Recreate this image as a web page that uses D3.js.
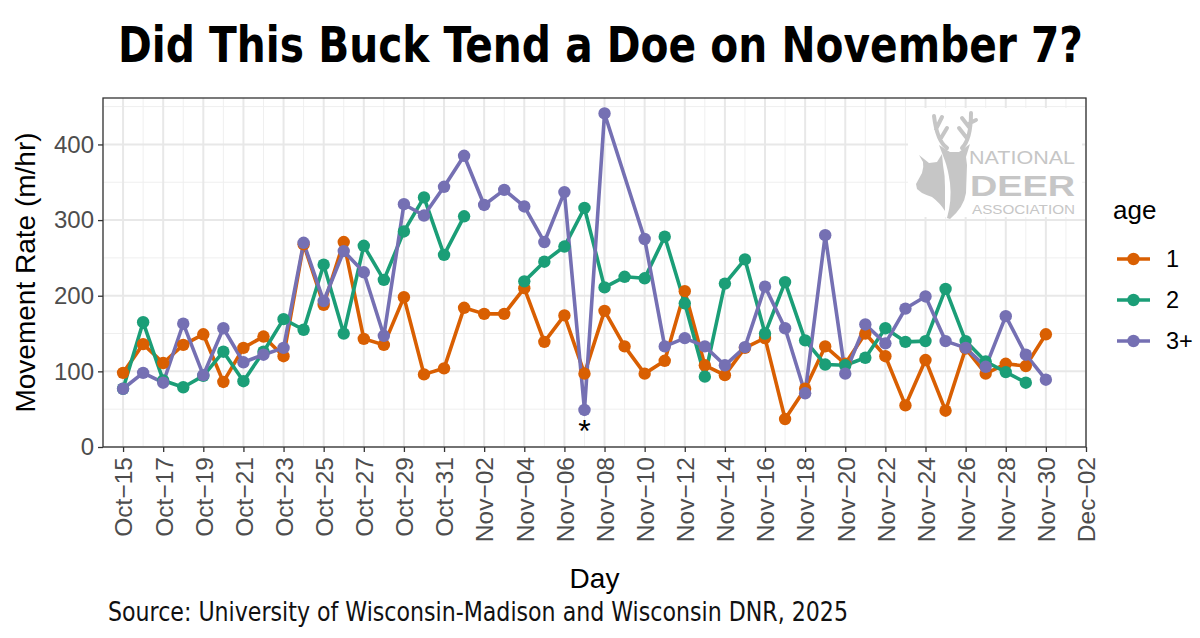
<!DOCTYPE html>
<html>
<head>
<meta charset="utf-8">
<script src="https://cdn.jsdelivr.net/npm/d3@7"></script>
<style>
  body { margin: 0; background: #fff; }
  svg { display: block; }
</style>
</head>
<body>
<div id="chart"></div>
<script>
const days = [
  "2024-10-15", "2024-10-16", "2024-10-17", "2024-10-18", "2024-10-19", "2024-10-20",
  "2024-10-21", "2024-10-22", "2024-10-23", "2024-10-24", "2024-10-25", "2024-10-26",
  "2024-10-27", "2024-10-28", "2024-10-29", "2024-10-30", "2024-10-31", "2024-11-01",
  "2024-11-02", "2024-11-03", "2024-11-04", "2024-11-05", "2024-11-06", "2024-11-07",
  "2024-11-08", "2024-11-09", "2024-11-10", "2024-11-11", "2024-11-12", "2024-11-13",
  "2024-11-14", "2024-11-15", "2024-11-16", "2024-11-17", "2024-11-18", "2024-11-19",
  "2024-11-20", "2024-11-21", "2024-11-22", "2024-11-23", "2024-11-24", "2024-11-25",
  "2024-11-26", "2024-11-27", "2024-11-28", "2024-11-29", "2024-11-30"
];
const age1 = [98, 136, 111, 135, 149, 86, 131, 146, 120, 268, 188, 271,
  143, 135, 198, 96, 104, 184, 176, 176, 210, 139, 174, 97,
  180, 133, 97, 114, 206, 108, 95, 131, 144, 37, 77, 133,
  110, 150, 120, 55, 115, 48, 130, 97, 110, 107, 149];
const age2 = [77, 165, 88, 79, 94, 126, 87, 126, 169, 155, 241, 150,
  266, 221, 285, 330, 254, 305, null, null, 219, 245, 265, 316,
  211, 225, 223, 278, 190, 93, 216, 248, 150, 218, 141, 109,
  108, 118, 157, 139, 140, 209, 140, 113, 99, 85, null];
const age3 = [77, 98, 85, 163, 95, 157, 112, 122, 131, 270, 193, 259,
  231, 147, 321, 306, 344, 385, 320, 340, 318, 271, 337, 49,
  441, null, 275, 133, 144, 133, 108, 132, 212, 157, 71, 280,
  97, 162, 137, 183, 199, 140, 131, 106, 173, 122, 89];

const ageLabels = ["1", "2", "3+"];
const ageColors = ["#D95F02", "#1B9E77", "#7570B3"];
// age 2 has NA rows (line breaks), age 3+ simply lacks the Nov 9 row (line joins)
const bridgeGaps = [false, false, true];

const xTicks = [
  "2024-10-15", "2024-10-17", "2024-10-19", "2024-10-21", "2024-10-23", "2024-10-25",
  "2024-10-27", "2024-10-29", "2024-10-31", "2024-11-02", "2024-11-04", "2024-11-06",
  "2024-11-08", "2024-11-10", "2024-11-12", "2024-11-14", "2024-11-16", "2024-11-18",
  "2024-11-20", "2024-11-22", "2024-11-24", "2024-11-26", "2024-11-28", "2024-11-30",
  "2024-12-02"
];
const yTicks = [0, 100, 200, 300, 400];
const yMinor = [50, 150, 250, 350, 450];
const markDay = "2024-11-07";

const parseDay = d3.utcParse("%Y-%m-%d");
const keyFormat = d3.utcFormat("%Y-%m-%d");
const tickFormat = d3.utcFormat("%b\u2212%d");

// panel box
var margin = { top: 98, right: 114, bottom: 191, left: 103 },
    W = 1200, H = 638,
    width = W - margin.left - margin.right,
    height = H - margin.top - margin.bottom;

var svg = d3.select("#chart")
    .append("svg")
    .attr("width", W)
    .attr("height", H);

var x = d3.scaleUtc()
    .domain([parseDay("2024-10-14"), parseDay("2024-12-02")])
    .range([0, width]);
var y = d3.scaleLinear()
    .domain([0, 461.4])
    .range([height, 0]);

var g = svg.append("g")
    .attr("transform", "translate(" + margin.left + "," + margin.top + ")");

// minor grid (odd days / half hundreds)
var minorX = d3.utcDay.range(parseDay("2024-10-14"), parseDay("2024-12-03"))
    .filter(function (d) { return xTicks.indexOf(keyFormat(d)) < 0; });
g.append("g").selectAll("line").data(minorX).enter().append("line")
    .attr("x1", function (d) { return x(d); }).attr("x2", function (d) { return x(d); })
    .attr("y1", 0).attr("y2", height)
    .attr("stroke", "#efefef").attr("stroke-width", 1);
g.append("g").selectAll("line").data(yMinor).enter().append("line")
    .attr("x1", 0).attr("x2", width)
    .attr("y1", function (d) { return y(d); }).attr("y2", function (d) { return y(d); })
    .attr("stroke", "#efefef").attr("stroke-width", 1);
// major grid
g.append("g").selectAll("line").data(xTicks).enter().append("line")
    .attr("x1", function (d) { return x(parseDay(d)); }).attr("x2", function (d) { return x(parseDay(d)); })
    .attr("y1", 0).attr("y2", height)
    .attr("stroke", "#e8e8e8").attr("stroke-width", 2);
g.append("g").selectAll("line").data(yTicks).enter().append("line")
    .attr("x1", 0).attr("x2", width)
    .attr("y1", function (d) { return y(d); }).attr("y2", function (d) { return y(d); })
    .attr("stroke", "#e8e8e8").attr("stroke-width", 2);

// white box behind the logo
g.append("rect")
    .attr("x", 805).attr("y", 10)
    .attr("width", 174).attr("height", 109)
    .attr("fill", "#fff");

// series
var series = [age1, age2, age3].map(function (vals, i) {
    var pts = days.map(function (d, j) { return { date: parseDay(d), v: vals[j] }; });
    return {
        age: ageLabels[i],
        color: ageColors[i],
        values: pts,
        path: bridgeGaps[i] ? pts.filter(function (d) { return d.v != null; }) : pts
    };
});

var line = d3.line()
    .defined(function (d) { return d.v != null; })
    .x(function (d) { return x(d.date); })
    .y(function (d) { return y(d.v); });

g.append("g").selectAll("path").data(series).enter().append("path")
    .attr("d", function (s) { return line(s.path); })
    .attr("fill", "none")
    .attr("stroke", function (s) { return s.color; })
    .attr("stroke-width", 3.6)
    .attr("stroke-linejoin", "round");

series.forEach(function (s) {
    g.append("g").selectAll("circle")
        .data(s.values.filter(function (d) { return d.v != null; }))
        .enter().append("circle")
        .attr("cx", function (d) { return x(d.date); })
        .attr("cy", function (d) { return y(d.v); })
        .attr("r", 6.2)
        .attr("fill", s.color);
});

// asterisk under the Nov 7 dip
g.append("text")
    .attr("x", x(parseDay(markDay)))
    .attr("y", y(6))
    .attr("text-anchor", "middle")
    .style("font-family", "'Liberation Sans', Arial, sans-serif")
    .style("font-size", "32px")
    .attr("fill", "#000")
    .text("*");

// panel border
g.append("rect")
    .attr("width", width).attr("height", height)
    .attr("fill", "none").attr("stroke", "#333").attr("stroke-width", 1.3);

// axes
var xAxis = g.append("g")
    .attr("transform", "translate(0," + height + ")")
    .call(d3.axisBottom(x)
        .tickValues(xTicks.map(parseDay))
        .tickFormat(tickFormat)
        .tickSize(5).tickSizeOuter(0));
xAxis.select(".domain").remove();
xAxis.selectAll(".tick line").attr("stroke", "#333").attr("stroke-width", 1.3);
xAxis.selectAll("text")
    .attr("transform", "rotate(-90)")
    .attr("x", -10).attr("y", 0).attr("dy", "0.36em")
    .style("text-anchor", "end")
    .style("font-family", "'Liberation Sans', Arial, sans-serif")
    .style("font-size", "24.5px")
    .attr("fill", "#4d4d4d");

var yAxis = g.append("g")
    .call(d3.axisLeft(y).tickValues(yTicks).tickSize(5).tickSizeOuter(0));
yAxis.select(".domain").remove();
yAxis.selectAll(".tick line").attr("stroke", "#333").attr("stroke-width", 1.3);
yAxis.selectAll("text")
    .attr("x", -9)
    .style("font-family", "'Liberation Sans', Arial, sans-serif")
    .style("font-size", "24px")
    .attr("fill", "#4d4d4d");

// axis titles
svg.append("text")
    .attr("transform", "rotate(-90)")
    .attr("x", -(margin.top + height / 2))
    .attr("y", 35)
    .style("text-anchor", "middle")
    .style("font-family", "'Liberation Sans', Arial, sans-serif")
    .style("font-size", "28px")
    .text("Movement Rate (m/hr)");

svg.append("text")
    .attr("x", margin.left + width / 2)
    .attr("y", 588)
    .style("text-anchor", "middle")
    .style("font-family", "'Liberation Sans', Arial, sans-serif")
    .style("font-size", "28px")
    .text("Day");

// title and caption
svg.append("text")
    .attr("x", 118)
    .attr("y", 62)
    .attr("textLength", 965)
    .attr("lengthAdjust", "spacingAndGlyphs")
    .style("font-family", "'Liberation Sans Narrow', 'DejaVu Sans Condensed', sans-serif")
    .style("font-weight", "bold")
    .style("font-size", "50px")
    .text("Did This Buck Tend a Doe on November 7?");

svg.append("text")
    .attr("x", 108)
    .attr("y", 621)
    .attr("textLength", 740)
    .attr("lengthAdjust", "spacingAndGlyphs")
    .style("font-family", "'Liberation Sans Narrow', 'DejaVu Sans Condensed', sans-serif")
    .style("font-size", "26px")
    .attr("fill", "#111")
    .text("Source: University of Wisconsin-Madison and Wisconsin DNR, 2025");

// legend
var legend = svg.append("g").attr("transform", "translate(1113,0)");
legend.append("text")
    .attr("x", 0).attr("y", 219)
    .style("font-family", "'Liberation Sans', Arial, sans-serif")
    .style("font-size", "26px")
    .text("age");
var keyY = [259, 300, 341];
series.forEach(function (s, i) {
    var k = legend.append("g").attr("transform", "translate(0," + keyY[i] + ")");
    k.append("line").attr("x1", 4).attr("x2", 37).attr("y1", 0).attr("y2", 0)
        .attr("stroke", s.color).attr("stroke-width", 3.6);
    k.append("circle").attr("cx", 20.5).attr("cy", 0).attr("r", 6.2).attr("fill", s.color);
    k.append("text").attr("x", 53).attr("y", 0).attr("dy", "0.36em")
        .style("font-family", "'Liberation Sans', Arial, sans-serif")
        .style("font-size", "23.5px")
        .attr("fill", "#000")
        .text(s.age);
});

// National Deer Association mark
var logoGrey = "#c6c6c6";
var logo = svg.append("g").attr("transform", "translate(910,105)");
// antlers
logo.append("path")
    .attr("d", "M37,43 Q27,36 24,11 M26,24 L32,12 M31,33 L37,23 M52,43 Q61,34 61,8 M59,22 L52,13 M56,32 L49,23 M60,18 L66,15")
    .attr("fill", "none").attr("stroke", logoGrey).attr("stroke-width", 4).attr("stroke-linecap", "round");
// buck head and neck
logo.append("path")
    .attr("d", "M29,40 L40,47 L49,47 L60,39 L56,52 L57,60 L56,88 Q54,102 40,114 L37,113 Q42,96 40,78 Q38,64 35,56 Z")
    .attr("fill", logoGrey);
// doe head
logo.append("path")
    .attr("d", "M9,50 L19,58 L27,57 L32,49 L33,60 Q35,70 35,82 L35,106 Q30,98 22,92 Q16,90 12,88 L7,84 L6,79 L12,68 Q14,62 13,57 Z")
    .attr("fill", logoGrey);
logo.append("text")
    .attr("x", 59).attr("y", 59)
    .attr("textLength", 106).attr("lengthAdjust", "spacingAndGlyphs")
    .style("font-family", "'Liberation Sans', Arial, sans-serif")
    .style("font-size", "18px")
    .attr("fill", logoGrey)
    .text("NATIONAL");
logo.append("text")
    .attr("x", 60).attr("y", 91)
    .attr("textLength", 105).attr("lengthAdjust", "spacingAndGlyphs")
    .style("font-family", "'Liberation Sans', Arial, sans-serif")
    .style("font-weight", "bold")
    .style("font-size", "30px")
    .attr("fill", logoGrey)
    .text("DEER");
logo.append("text")
    .attr("x", 62).attr("y", 109)
    .attr("textLength", 103).attr("lengthAdjust", "spacingAndGlyphs")
    .style("font-family", "'Liberation Sans', Arial, sans-serif")
    .style("font-size", "13px")
    .attr("fill", logoGrey)
    .text("ASSOCIATION");
</script>
</body>
</html>
